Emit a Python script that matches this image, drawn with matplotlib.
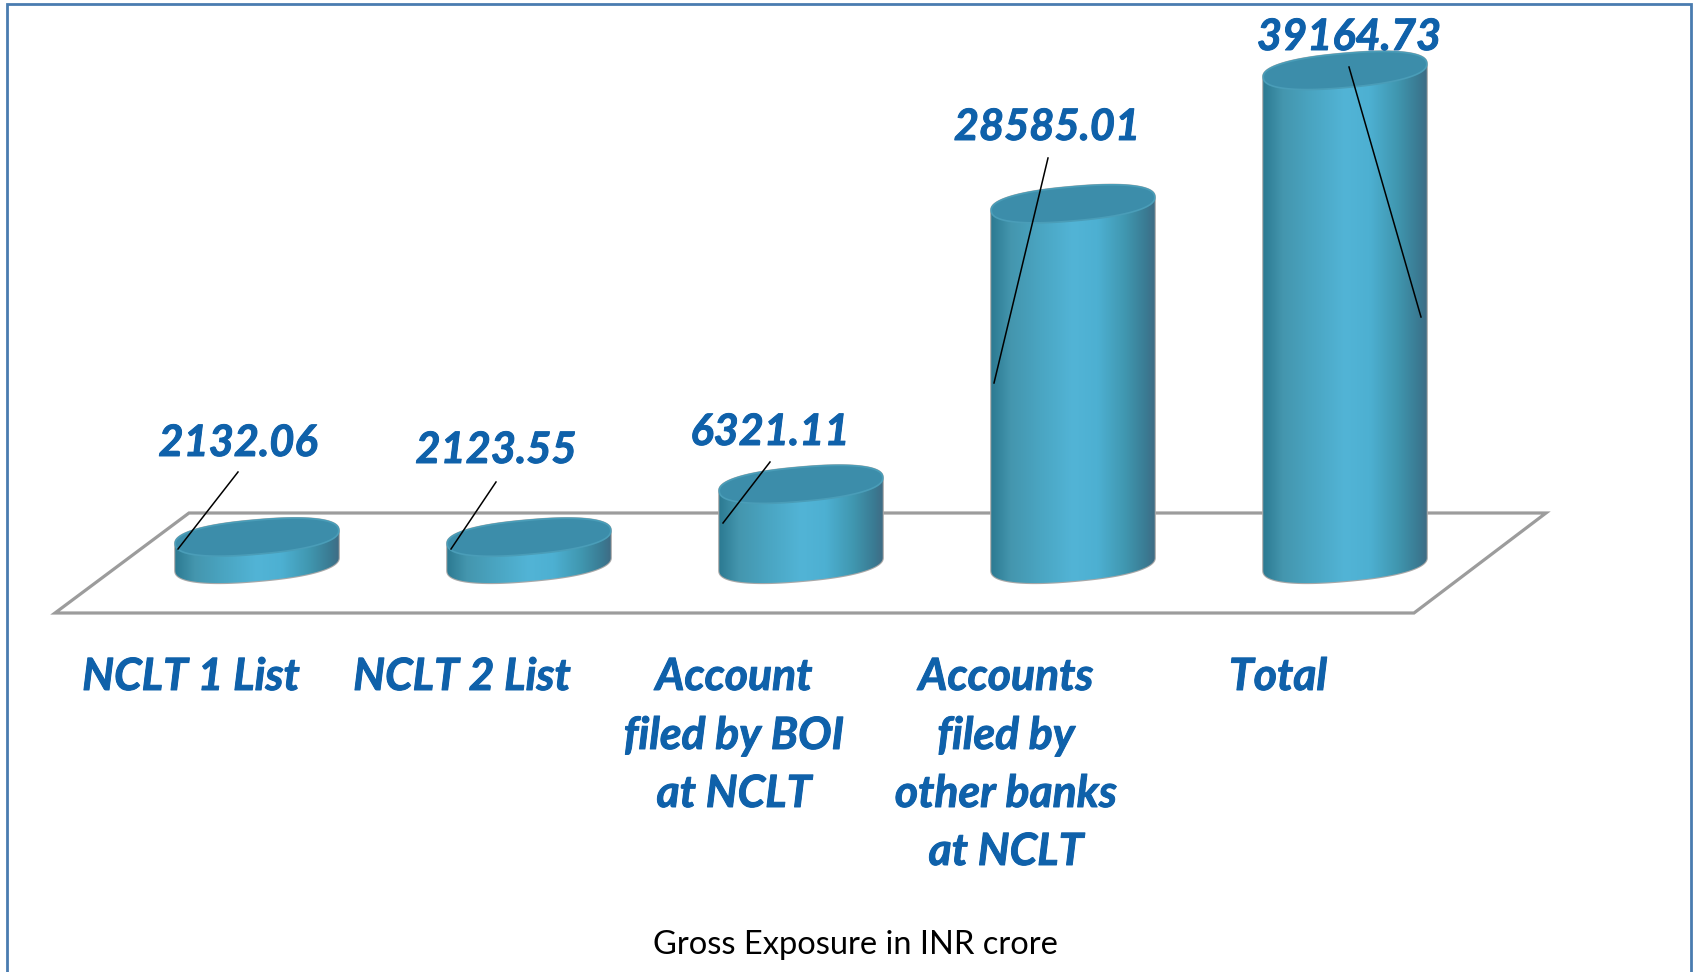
import numpy as np
import matplotlib
matplotlib.use('Agg')

import matplotlib.pyplot as plt
import matplotlib.patheffects as pe
from matplotlib.colors import LinearSegmentedColormap
from matplotlib.patches import PathPatch, Polygon
from matplotlib.path import Path
from matplotlib.transforms import Affine2D

# chart data
categories = ['NCLT 1 List', 'NCLT 2 List', 'Account\nfiled by BOI\nat NCLT',
              'Accounts\nfiled by\nother banks\nat NCLT', 'Total']
values = [2132.06, 2123.55, 6321.11, 28585.01, 39164.73]
value_labels = ['2132.06', '2123.55', '6321.11', '28585.01', '39164.73']
title = 'Gross Exposure in INR crore'

# layout, in pixels of the 1694x972 picture (y down)
W, H = 1694, 972
x0, x_step = 257, 272
base_y = 564
px_per_value = 0.0126
semi_a, semi_b, tilt = 82, 17, np.radians(5)
round_pow = 0.85  # blunts the ends of the ellipses
value_label_pos = [(238, 443), (496, 450), (770, 432), (1047, 127), (1349, 37)]
category_label_x = [191, 462, 734, 1006, 1278]
category_line_y = [677, 736, 794, 852]
leaders = [((238, 472), (178, 549)), ((496, 482), (451, 549)),
           ((770, 462), (723, 523)), ((1048, 158), (994, 383)),
           ((1349, 67), (1421, 317))]
floor = [(55, 613), (1414, 613), (1546, 513), (189, 513)]

blue = '#0f61aa'
font = ['Lato', 'DejaVu Sans']
bold = [pe.withStroke(linewidth=0.7, foreground=blue)]

fig = plt.figure(figsize=(W / 100, H / 100), dpi=100)
ax = fig.add_axes([0, 0, 1, 1])
ax.axis('off')

# pixel positions to display coordinates
px = Affine2D().scale(1, -1).translate(0, H)

shade = LinearSegmentedColormap.from_list('cyl', [
    (0.0, '#2c7a92'), (0.12, '#4496ae'), (0.3, '#4aa5c2'), (0.5, '#52b4d6'),
    (0.65, '#4db0d2'), (0.82, '#4097b0'), (0.95, '#3a7a92'), (1.0, '#3f6c85')])

# floor of the chart
ax.add_patch(Polygon(floor, closed=True, fill=False, edgecolor='#9c9c9c', lw=2.3,
                     joinstyle='miter', transform=px, zorder=1))

t = np.linspace(0, 2 * np.pi, 360, endpoint=False)
ex = semi_a * np.sign(np.cos(t)) * np.abs(np.cos(t)) ** round_pow
ey = semi_b * np.sign(np.sin(t)) * np.abs(np.sin(t)) ** round_pow
dx = ex * np.cos(tilt) - ey * np.sin(tilt)
dy = ex * np.sin(tilt) + ey * np.cos(tilt)

# order the outline from the rightmost point, clockwise
start = int(np.argmax(dx))
dx = np.roll(dx, -start)[::-1]
dy = np.roll(dy, -start)[::-1]
dx = np.roll(dx, 1)
dy = np.roll(dy, 1)
left = int(np.argmin(dx))
half_w = dx.max() / x_step

for i, v in enumerate(values):
    xs = i + dx / x_step
    low = np.column_stack([xs[:left + 1], dy[:left + 1] / px_per_value])
    high = np.column_stack([xs[left:], v + dy[left:] / px_per_value])
    outline = np.vstack([low, high, [xs[0], v + dy[0] / px_per_value], low[:1]])
    body = Path(outline, closed=True)

    ax.add_patch(PathPatch(body, facecolor='none', edgecolor='#a8a8a8', lw=1.6, zorder=2))
    im = ax.imshow(np.linspace(0, 1, 256)[None, :], cmap=shade, aspect='auto',
                   interpolation='bilinear', zorder=3,
                   extent=(i - half_w, i + half_w,
                           -30 / px_per_value, v + 30 / px_per_value))
    im.set_clip_path(PathPatch(body, transform=ax.transData))

    cap = np.column_stack([xs, v + dy / px_per_value])
    ax.add_patch(Polygon(cap, closed=True, facecolor='#3c8daa', edgecolor='#4a9db8',
                         lw=1.2, zorder=4))

# same scale as the picture: baseline at base_y, x_step pixels per category
ax.set_xlim(-x0 / x_step, (W - x0) / x_step)
ax.set_ylim(-(H - base_y) / px_per_value, base_y / px_per_value)

for (a, b) in leaders:
    ax.plot([a[0], b[0]], [a[1], b[1]], color='black', lw=1.1, transform=px, zorder=5)

for label, pos in zip(value_labels, value_label_pos):
    ax.text(pos[0], pos[1], label, transform=px, family=font, fontsize=31.2, color=blue,
            fontweight='bold', fontstyle='italic', ha='center', va='center', zorder=6,
            path_effects=bold)

for cat, x in zip(categories, category_label_x):
    for line, y in zip(cat.split('\n'), category_line_y):
        ax.text(x, y, line, transform=px, family=font, fontsize=32, color=blue,
                fontweight='bold', fontstyle='italic', ha='center', va='center', zorder=6,
                path_effects=bold)

ax.text(855, 945, title, transform=px, family=font, fontsize=23.5, color='black',
        ha='center', va='center', zorder=6)

# frame, open at the bottom
ax.plot([7, 7, 1691, 1691], [H, 4, 4, H], color='#4a7cb0', lw=2.0, transform=px,
        solid_joinstyle='miter', zorder=7)

fig.savefig('out.png', dpi=100)
